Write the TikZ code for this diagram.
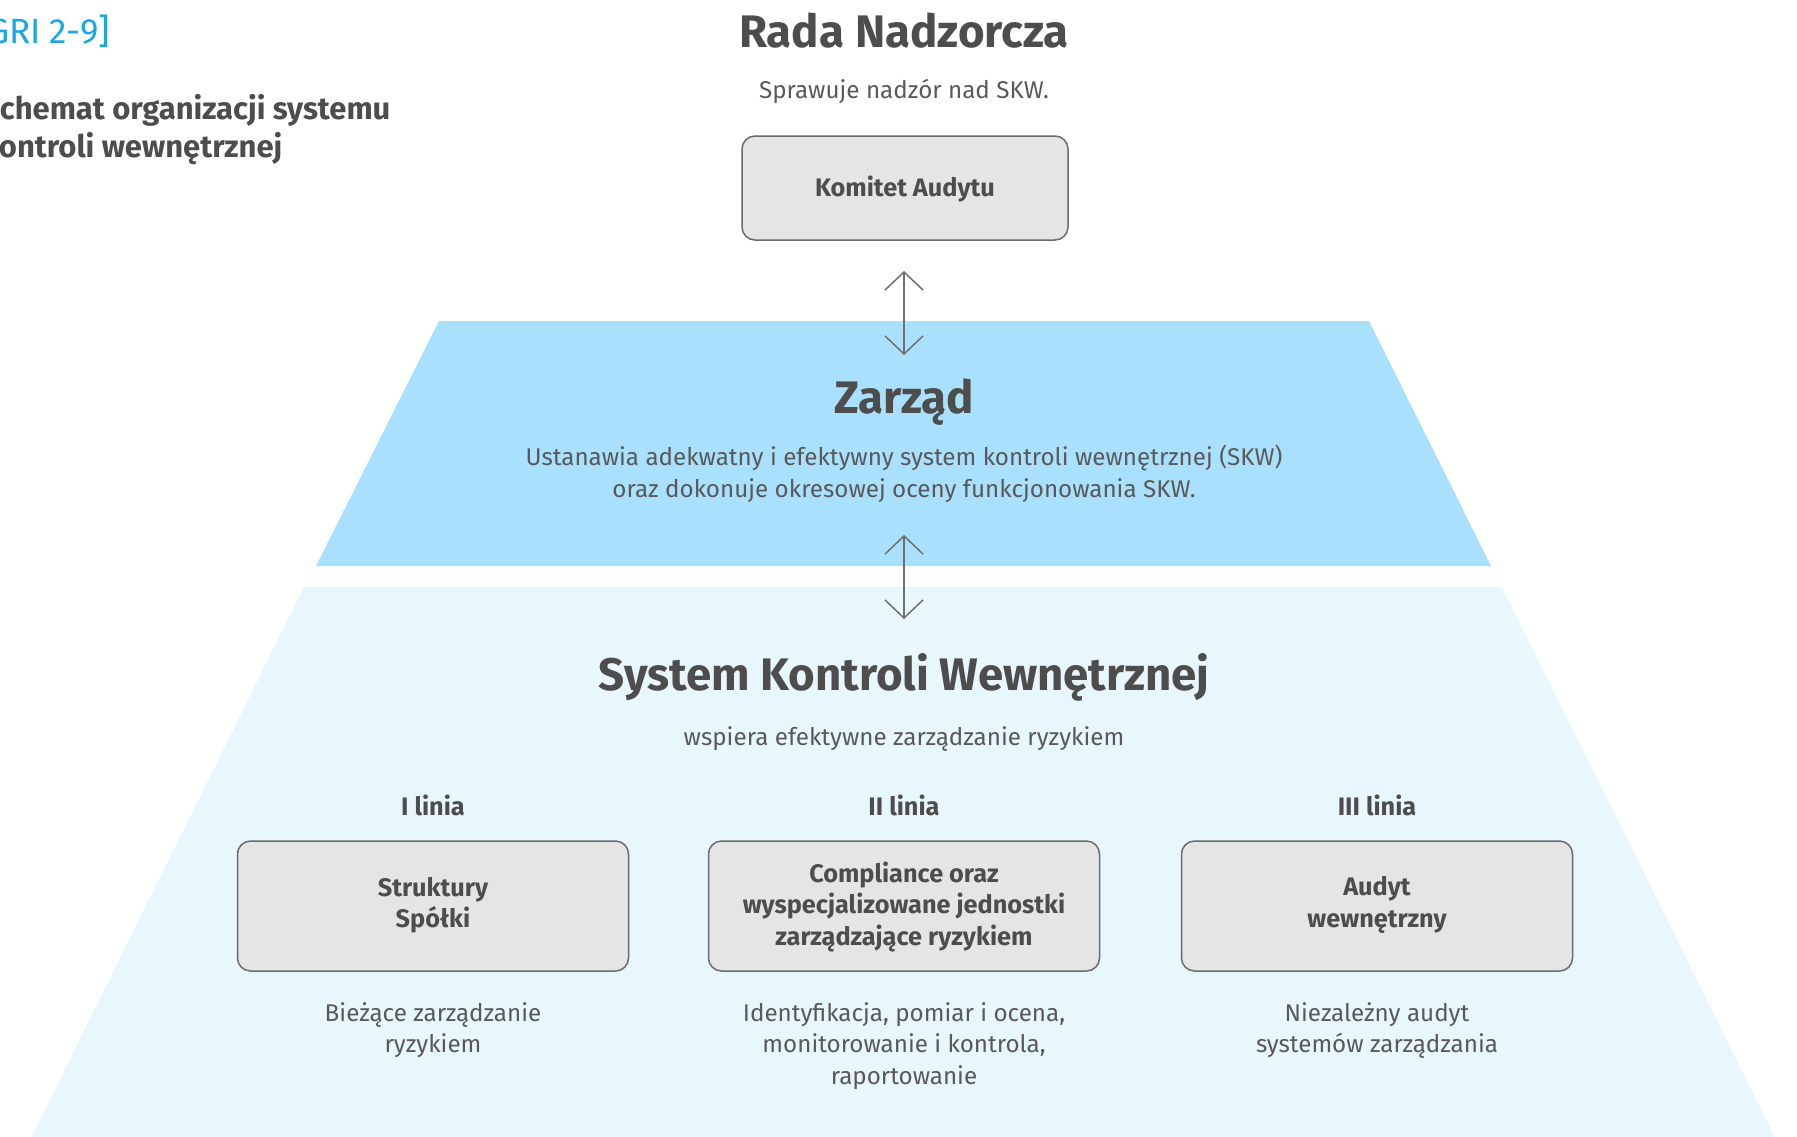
\documentclass[tikz,border=0pt]{standalone}
\usepackage{fontspec}
\setmainfont{Fira Sans}
\usetikzlibrary{arrows.meta}
\definecolor{txt}{HTML}{4D4D4D}
\definecolor{body}{HTML}{595959}
\definecolor{gri}{HTML}{1AA7E3}
\definecolor{zfill}{HTML}{A8E0FD}
\definecolor{sfill}{HTML}{E8F6FE}
\definecolor{bfill}{HTML}{E5E5E5}
\definecolor{bline}{HTML}{6B6B6B}
\definecolor{aline}{HTML}{707070}
\tikzset{
  head/.style={text=txt, font=\fontsize{45.6}{54}\selectfont\bfseries, inner sep=0pt},
  bodytxt/.style={text=body, font=\fontsize{24.2}{31.5}\selectfont, align=center, inner sep=0pt},
  boxtxt/.style={text=txt, font=\fontsize{25.3}{31.5}\selectfont\bfseries, align=center, inner sep=0pt},
  linebox/.style={draw=bline, line width=1.5pt, fill=bfill, rounded corners=13pt, minimum width=391pt, minimum height=130pt, inner sep=0pt},
  dblarrow/.style={draw=aline, line width=1.5pt, {Straight Barb[length=18pt,width=38pt,line width=1.5pt]}-{Straight Barb[length=18pt,width=38pt,line width=1.5pt]}}
}
\begin{document}
\begin{tikzpicture}[x=1pt,y=-1pt]
\useasboundingbox (0,0) rectangle (1797,1136);
\clip (0,0) rectangle (1797,1136);
\fill[white] (0,0) rectangle (1797,1136);
% bands
\fill[sfill] (304,587) -- (1502,587) -- (1786,1160) -- (20,1160) -- cycle;
\fill[zfill] (439,321) -- (1369,321) -- (1491,566) -- (316,566) -- cycle;
% header left
\node[anchor=base east, text=gri, font=\fontsize{35}{40}\selectfont, inner sep=0pt] (gri) at (110,43) {[GRI 2-9]};
\node[anchor=base west, text=txt, font=\fontsize{31}{36}\selectfont\bfseries, inner sep=0pt] (t1) at (-18,119) {Schemat organizacji systemu};
\node[anchor=base west, text=txt, font=\fontsize{31}{36}\selectfont\bfseries, inner sep=0pt] (t2) at (-18,157) {kontroli wewnętrznej};
% Rada
\node[head] (rada) at (904,31) {Rada Nadzorcza};
\node[bodytxt] (radad) at (904,91) {Sprawuje nadzór nad SKW.};
\node[linebox, minimum width=326pt, minimum height=104pt] (kom) at (905,188) {};
\node[boxtxt] (komt) at (905,189) {Komitet Audytu};
% Zarzad
\node[head] (zar) at (904,402) {Zarząd};
\node[bodytxt] (zard) at (904,474) {Ustanawia adekwatny i efektywny system kontroli wewnętrznej (SKW)\\oraz dokonuje okresowej oceny funkcjonowania SKW.};
% SKW
\node[head] (skw) at (904,677) {System Kontroli Wewnętrznej};
\node[bodytxt] (skwd) at (904,739) {wspiera efektywne zarządzanie ryzykiem};
% arrows
\coordinate (a1t) at (904,271);
\coordinate (a1b) at (904,355);
\coordinate (a2t) at (904,535);
\coordinate (a2b) at (904,619);
\draw[dblarrow] (a1t) -- (a1b);
\draw[dblarrow] (a2t) -- (a2b);
% lines
\node[boxtxt] (l1) at (433,805) {I linia};
\node[boxtxt] (l2) at (904,805) {II linia};
\node[boxtxt] (l3) at (1377,805) {III linia};
\node[linebox] (b1) at (433,906) {};
\node[linebox] (b2) at (904,906) {};
\node[linebox] (b3) at (1377,906) {};
\node[boxtxt] (b1t) at (433,905) {Struktury\\Spółki};
\node[boxtxt] (b2t) at (904,907) {Compliance oraz\\wyspecjalizowane jednostki\\zarządzające ryzykiem};
\node[boxtxt] (b3t) at (1377,905) {Audyt\\wewnętrzny};
\node[bodytxt, anchor=north] (d1) at (433,1002) {Bieżące zarządzanie\\ryzykiem};
\node[bodytxt, anchor=north] (d2) at (904,1002) {Identyfikacja, pomiar i ocena,\\monitorowanie i kontrola,\\raportowanie};
\node[bodytxt, anchor=north] (d3) at (1377,1002) {Niezależny audyt\\systemów zarządzania};
\end{tikzpicture}
\end{document}
